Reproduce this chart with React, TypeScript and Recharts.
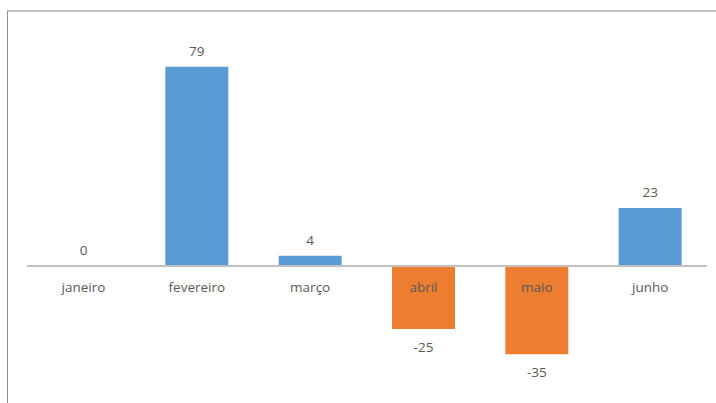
import React from 'react';
import { BarChart, Bar, XAxis, YAxis, Cell, Rectangle, ReferenceLine } from 'recharts';

const months = ['janeiro', 'fevereiro', 'março', 'abril', 'maio', 'junho'];
const values = [0, 79, 4, -25, -35, 23];

const POSITIVE = '#5b9bd5';
const NEGATIVE = '#ed7d31';
const TEXT = '#595959';
const FONT = '"Open Sans", sans-serif';

const chartData = months.map((name, i) => ({ name, value: values[i] }));

// bar rectangle plus its value (above/below) and the month name just under the zero line
const LabeledBar = (props: any) => {
  const { x, y, width, height, payload } = props;
  const v = payload.value;
  const top = Math.min(y, y + height);
  const bottom = Math.max(y, y + height);
  const zero = v >= 0 ? bottom : top;
  const cx = x + width / 2;
  const valueY = v >= 0 ? top - 16 : bottom + 18;
  return (
    <g>
      {v !== 0 && <Rectangle {...props} />}
      <text x={cx} y={valueY} textAnchor="middle" dominantBaseline="central" fill={TEXT} fontSize={13.5} fontFamily={FONT}>
        {v}
      </text>
      <text x={cx} y={zero + 21} textAnchor="middle" dominantBaseline="central" fill={TEXT} fontSize={13.5} fontFamily={FONT}>
        {payload.name}
      </text>
    </g>
  );
};

export default function App() {
  return (
    <div style={{ position: 'absolute', left: 0, top: 0, width: 716, height: 403, background: '#fff', overflow: 'hidden' }}>
      <div
        style={{
          position: 'absolute',
          left: 7,
          top: 10,
          width: 760,
          height: 440,
          borderLeft: '1.5px solid #8c8c8c',
          borderTop: '2px solid #c4c4c4'
        }}
      />
      <div style={{ position: 'absolute', left: 0, top: 0 }}>
        <BarChart width={716} height={403} data={chartData} margin={{ top: 39, right: 9, left: 27, bottom: 11 }}>
          <XAxis dataKey="name" hide />
          <YAxis hide domain={[-50, 90]} />
          <Bar dataKey="value" barSize={63} isAnimationActive={false} shape={<LabeledBar />}>
            {chartData.map((d, i) => (
              <Cell key={i} fill={d.value >= 0 ? POSITIVE : NEGATIVE} />
            ))}
          </Bar>
          <ReferenceLine y={0} stroke="#c0c0c0" strokeWidth={2} />
        </BarChart>
      </div>
    </div>
  );
}
